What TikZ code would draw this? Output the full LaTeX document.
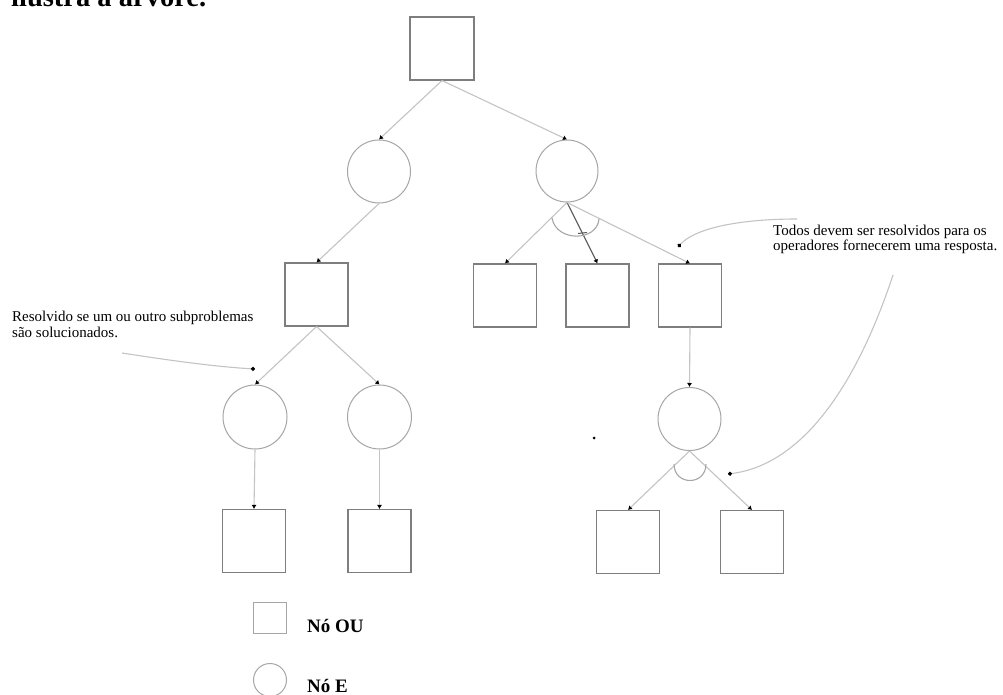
\documentclass[tikz,border=0pt]{standalone}
\usepackage{fontspec}
\setmainfont{Liberation Serif}
\usetikzlibrary{arrows.meta}
\definecolor{edgegray}{HTML}{C4C4C4}
\definecolor{boxgray}{HTML}{7E7E7E}
\definecolor{ringgray}{HTML}{A6A6A6}
\definecolor{darkedge}{HTML}{5A5A5A}
\tikzset{
  ornode/.style={draw=boxgray, line width=1.1pt, minimum width=63pt, minimum height=63pt, inner sep=0pt},
  andnode/.style={circle, draw=ringgray, line width=1pt, minimum size=63pt, inner sep=0pt},
  edge/.style={draw=edgegray, line width=1.1pt, -{Latex[color=black,length=4pt,width=5pt]}},
  andarc/.style={draw=ringgray, line width=1.1pt},
  note/.style={font=\fontsize{15}{16}\selectfont, anchor=base west, inner sep=0pt},
  pointer/.style={draw=edgegray, line width=1.1pt, -{Circle[color=black,length=4pt]}},
  legtext/.style={font=\bfseries\fontsize{19}{20}\selectfont, anchor=base west, inner sep=0pt}
}
\begin{document}
\begin{tikzpicture}[x=1pt,y=-1pt]
\useasboundingbox (0,0) rectangle (1003,695);
\clip (0,0) rectangle (1003,695);
\fill[white] (0,0) rectangle (1003,695);

% heading line, partly cut at the top edge
\node[font=\bfseries\fontsize{28.5}{30}\selectfont, anchor=base west, inner sep=0pt] (head) at (11,7) {ilustra a árvore.};

% tree nodes
\node[ornode, minimum width=64pt] (root) at (442,48.5) {};
\node[andnode] (c1) at (379,171.5) {};
\node[andnode, minimum size=62pt] (c2) at (567,171) {};
\node[ornode] (s1) at (316.5,294.5) {};
\node[ornode] (s2) at (505,295.5) {};
\node[ornode] (s3) at (597.5,295.5) {};
\node[ornode] (s4) at (690,295.5) {};
\node[andnode, minimum size=64pt] (c3) at (255,417) {};
\node[andnode, minimum size=64pt] (c4) at (379.5,417) {};
\node[andnode] (c5) at (689.5,419) {};
\node[ornode] (s5) at (254,541) {};
\node[ornode] (s6) at (379.5,541) {};
\node[ornode] (s7) at (628,542) {};
\node[ornode] (s8) at (752,542) {};

% connectors
\draw[edge] (root.south) -- (c1.north);
\draw[edge] (root.south) -- (c2.north);
\draw[edge] (c1.south) -- (s1.north);
\draw[edge] (c2.south) -- (s2.north);
\draw[edge, draw=darkedge] (c2.south) -- (s3.north);
\draw[edge] (c2.south) -- (s4.north);
\draw[edge] (s1.south) -- (c3.north);
\draw[edge] (s1.south) -- (c4.north);
\draw[edge] (c3.south) -- (s5.north);
\draw[edge] (c4.south) -- (s6.north);
\draw[edge] (s4.south) -- (c5.north);
\draw[edge] (c5.south) -- (s7.north);
\draw[edge] (c5.south) -- (s8.north);

% arcs marking the AND branches
\draw[andarc] (552,218) .. controls (556,242) and (597,242) .. (599,219);
\draw[darkedge, line width=1pt] (578,233.5) -- (587,232.5);
\draw[andarc] (674,464) .. controls (674,486) and (706,486) .. (706,464);

% annotations
\node[note] (t1) at (12,321) {Resolvido se um ou outro subproblemas};
\node[note] (t2) at (12,337) {são solucionados.};
\node[note] (t3) at (773,235) {Todos devem ser resolvidos para os};
\node[note] (t4) at (773,250) {operadores fornecerem uma resposta.};

\coordinate (p1) at (122,353);
\coordinate (p1e) at (255,369);
\coordinate (p2) at (797,219);
\coordinate (p2e) at (678,247);
\coordinate (p3) at (893,275);
\coordinate (p3e) at (728,474);
\draw[pointer] (p1) .. controls (180,362) and (220,367) .. (p1e);
\draw[pointer] (p2) .. controls (740,219) and (695,228) .. (p2e);
\draw[pointer] (p3) .. controls (855,390) and (800,465) .. (p3e);

% small speck
\fill[black] (594,438) circle (1.5pt);

% legend
\node[draw=ringgray, line width=1pt, minimum width=33pt, minimum height=31pt, inner sep=0pt] (lsq) at (269.5,617.5) {};
\node[legtext] (lt1) at (307,632) {Nó OU};
\node[circle, draw=ringgray, line width=1pt, minimum size=33pt, inner sep=0pt] (lci) at (270,680) {};
\node[legtext] (lt2) at (307,692) {Nó E};
\end{tikzpicture}
\end{document}
